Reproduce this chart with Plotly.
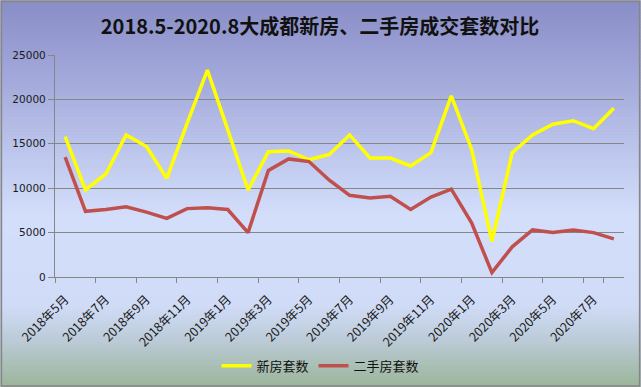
import plotly.graph_objects as go

months = ["2018年5月","2018年6月","2018年7月","2018年8月","2018年9月","2018年10月","2018年11月","2018年12月",
          "2019年1月","2019年2月","2019年3月","2019年4月","2019年5月","2019年6月","2019年7月","2019年8月",
          "2019年9月","2019年10月","2019年11月","2019年12月","2020年1月","2020年2月","2020年3月","2020年4月",
          "2020年5月","2020年6月","2020年7月","2020年8月"]
new_homes = [15800, 9800, 11600, 16000, 14700, 11100, 17300, 23300,
             16600, 9800, 14100, 14200, 13200, 13800, 16000, 13400,
             13400, 12500, 14000, 20400, 14400, 4000, 14000, 16000,
             17200, 17600, 16700, 19000]
second_homes = [13500, 7400, 7600, 7900, 7300, 6600, 7700, 7800,
                7600, 5000, 12000, 13300, 13000, 10900, 9200, 8900,
                9100, 7600, 9000, 9900, 6100, 500, 3400, 5300,
                5000, 5300, 5000, 4300]
tick_months = months[::2]
y_ticks = [0, 5000, 10000, 15000, 20000, 25000]
y_tick_text = ["0", "5000", "10000", "15000", "20000", "25000"]

W, H = 641, 387
L, R, T, B = 54.5, 16.5, 54.5, 110
pw, ph = W - L - R, H - T - B

def px2paper_x(px):
    return (px - L) / pw

def px2paper_y(py):
    return (H - B - py) / ph

stops = [(0, (137, 141, 198)), (60, (156, 162, 214)), (215, (211, 222, 251)),
         (305, (208, 220, 247)), (340, (188, 203, 216)), (387, (155, 181, 153))]

def color_at(py):
    for (a, ca), (b, cb) in zip(stops, stops[1:]):
        if a <= py <= b:
            t = (py - a) / (b - a)
            c = [round(ca[i] + (cb[i] - ca[i]) * t) for i in range(3)]
            return "rgb(%d,%d,%d)" % tuple(c)
    return "rgb(%d,%d,%d)" % stops[-1][1]

shapes = []
step = 3
for py in range(0, H, step):
    shapes.append(dict(type="rect", xref="paper", yref="paper",
                       x0=px2paper_x(0), x1=px2paper_x(W),
                       y0=px2paper_y(py + step + 0.5), y1=px2paper_y(py),
                       fillcolor=color_at(py + step / 2), line=dict(width=0), layer="below"))
shapes.append(dict(type="rect", xref="paper", yref="paper",
                   x0=px2paper_x(0.8), x1=px2paper_x(W - 0.8),
                   y0=px2paper_y(H - 0.8), y1=px2paper_y(0.8),
                   fillcolor="rgba(0,0,0,0)", line=dict(color="#868686", width=1.6), layer="above"))

fig = go.Figure()
fig.add_trace(go.Scatter(x=months, y=new_homes, mode="lines", name="新房套数",
                         line=dict(color="#ffff00", width=3.5)))
fig.add_trace(go.Scatter(x=months, y=second_homes, mode="lines", name="二手房套数",
                         line=dict(color="#c0504d", width=3.5)))

fig.update_layout(
    width=W, height=H,
    margin=dict(l=L, r=R, t=T, b=B, autoexpand=False),
    paper_bgcolor="#c8d2f0", plot_bgcolor="rgba(0,0,0,0)",
    shapes=shapes,
    title=dict(text="<b>2018.5-2020.8大成都新房、二手房成交套数对比</b>",
               x=320 / W, xref="container", xanchor="center", y=1 - 27 / H, yanchor="middle",
               font=dict(family="Noto Sans CJK SC", size=20, color="#111111")),
    xaxis=dict(type="category", categoryorder="array", categoryarray=months,
               range=[-0.5, len(months) - 0.5], automargin=False,
               tickvals=tick_months, ticktext=tick_months, tickangle=-45,
               tickson="boundaries", ticks="outside", ticklen=5, tickcolor="#868686",
               ticklabelstandoff=9,
               showline=True, linecolor="#868686", linewidth=1.3, showgrid=False,
               tickfont=dict(family="Noto Sans CJK SC", size=12.5, color="#1a1a1a")),
    yaxis=dict(range=[0, 25000], tickvals=y_ticks, ticktext=y_tick_text, automargin=False,
               ticks="outside", ticklen=6,
               tickcolor="#868686", showline=True, linecolor="#868686", linewidth=1.3,
               showgrid=True, gridcolor="#868686", gridwidth=1.2, zeroline=False,
               tickfont=dict(family="DejaVu Sans", size=10.5, color="#1a1a1a")),
    legend=dict(orientation="h", x=0.5, xref="container", xanchor="center", y=px2paper_y(366),
                yanchor="middle", bgcolor="rgba(0,0,0,0)",
                font=dict(family="Noto Sans CJK SC", size=13, color="#111111"),
                itemwidth=30, tracegroupgap=0),
    showlegend=True,
)

fig.write_html("out.html", config={"displayModeBar": False},
               post_script="document.body.style.margin='0';document.body.style.padding='0';"
                           "document.body.style.overflow='hidden';")
